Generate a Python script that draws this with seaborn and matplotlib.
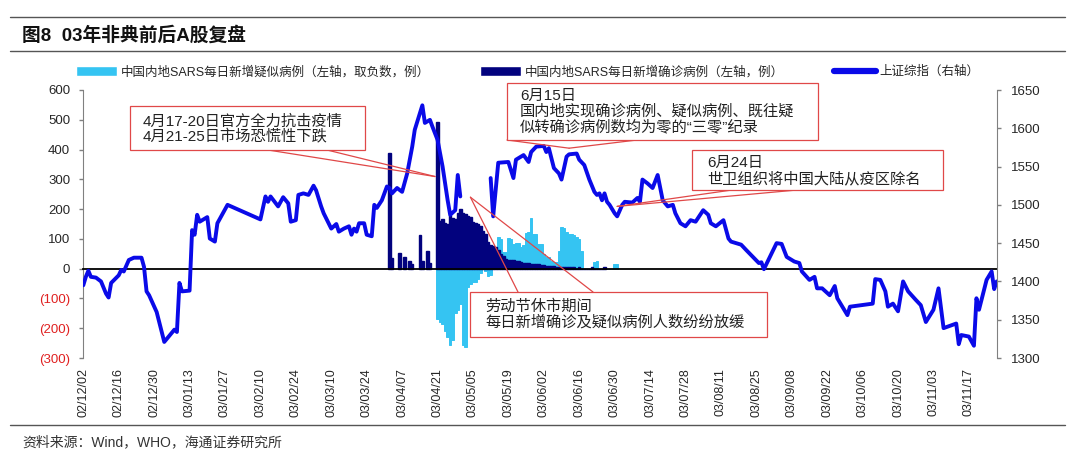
import pandas as pd
import seaborn as sns
import matplotlib.pyplot as plt
import matplotlib.dates as mdates
from matplotlib.patches import Patch, Rectangle, ConnectionPatch
from matplotlib.lines import Line2D

sns.set_style('white')
plt.rcParams['font.family'] = ['Liberation Sans', 'Noto Sans CJK SC']
plt.rcParams['axes.unicode_minus'] = False

# Shanghai Composite (right axis), format yy/mm/dd
index_dates = [
    '02/12/02', '02/12/03', '02/12/04', '02/12/05', '02/12/07', '02/12/09', '02/12/11', '02/12/12',
    '02/12/13', '02/12/16', '02/12/17', '02/12/18', '02/12/20', '02/12/22', '02/12/25', '02/12/26',
    '02/12/27', '02/12/28', '02/12/31', '03/01/03', '03/01/07', '03/01/08', '03/01/09', '03/01/10',
    '03/01/13', '03/01/14', '03/01/15', '03/01/16', '03/01/17', '03/01/20', '03/01/21', '03/01/23',
    '03/01/24', '03/01/28', '03/02/10', '03/02/12', '03/02/13', '03/02/14', '03/02/17', '03/02/19',
    '03/02/21', '03/02/22', '03/02/24', '03/02/25', '03/02/27', '03/03/01', '03/03/03', '03/03/04',
    '03/03/06', '03/03/07', '03/03/10', '03/03/11', '03/03/12', '03/03/13', '03/03/15', '03/03/17',
    '03/03/18', '03/03/19', '03/03/20', '03/03/21', '03/03/23', '03/03/24', '03/03/26', '03/03/27',
    '03/03/28', '03/03/30', '03/04/01', '03/04/02', '03/04/03', '03/04/05', '03/04/07', '03/04/09',
    '03/04/11', '03/04/12', '03/04/15', '03/04/16', '03/04/18', '03/04/19', '03/04/21', '03/04/23',
    '03/04/25', '03/04/26', '03/04/28', '03/04/29', '03/04/30',
    '03/05/12', '03/05/13', '03/05/15', '03/05/19', '03/05/21', '03/05/22', '03/05/25', '03/05/27',
    '03/05/28', '03/05/30', '03/06/02', '03/06/03', '03/06/04', '03/06/05', '03/06/06', '03/06/08',
    '03/06/09', '03/06/11', '03/06/12', '03/06/15', '03/06/16', '03/06/18', '03/06/20', '03/06/22',
    '03/06/23', '03/06/24', '03/06/25', '03/06/26', '03/06/27', '03/06/28', '03/06/30', '03/07/01',
    '03/07/03', '03/07/04', '03/07/07', '03/07/09', '03/07/10', '03/07/11', '03/07/13', '03/07/15',
    '03/07/17', '03/07/19', '03/07/21', '03/07/23', '03/07/24', '03/07/26', '03/07/28', '03/07/30',
    '03/08/01', '03/08/04', '03/08/06', '03/08/07', '03/08/09', '03/08/12', '03/08/14', '03/08/15',
    '03/08/19', '03/08/21', '03/08/26', '03/08/27', '03/08/28', '03/09/02', '03/09/04', '03/09/06',
    '03/09/09', '03/09/11', '03/09/12', '03/09/15', '03/09/17', '03/09/18', '03/09/20', '03/09/23',
    '03/09/25', '03/09/26', '03/09/30', '03/10/01', '03/10/10', '03/10/11', '03/10/13', '03/10/15',
    '03/10/16', '03/10/18', '03/10/20', '03/10/22', '03/10/24', '03/10/27', '03/10/29', '03/10/31',
    '03/11/03', '03/11/05', '03/11/07', '03/11/12', '03/11/13', '03/11/14', '03/11/17', '03/11/19',
    '03/11/20', '03/11/21', '03/11/24', '03/11/26', '03/11/27', '03/11/28',
]
index_values = [
    1395, 1406, 1414, 1406, 1405, 1400, 1384, 1379,
    1398, 1408, 1415, 1413, 1428, 1431, 1431, 1419,
    1387, 1382, 1360, 1321, 1337, 1334, 1398, 1387,
    1388, 1467, 1461, 1487, 1478, 1484, 1456, 1452,
    1476, 1500, 1481, 1511, 1504, 1511, 1498, 1510,
    1502, 1478, 1480, 1513, 1515, 1513, 1525, 1519,
    1498, 1489, 1469, 1472, 1475, 1465, 1469, 1472,
    1461, 1469, 1465, 1476, 1476, 1461, 1459, 1500,
    1496, 1506, 1524, 1522, 1515, 1522, 1517, 1541,
    1576, 1598, 1630, 1607, 1611, 1602, 1585, 1550,
    1506, 1487, 1493, 1539, 1511,
    1535, 1485, 1555, 1556, 1535, 1559, 1565, 1556,
    1569, 1576, 1577, 1569, 1574, 1561, 1548, 1541,
    1533, 1563, 1566, 1567, 1559, 1552, 1533, 1517,
    1513, 1515, 1506, 1515, 1504, 1500, 1489, 1485,
    1500, 1504, 1503, 1509, 1504, 1533, 1528, 1522,
    1539, 1506, 1498, 1500, 1489, 1476, 1472, 1480,
    1478, 1493, 1487, 1476, 1472, 1480, 1456, 1452,
    1448, 1441, 1424, 1425, 1416, 1450, 1449, 1432,
    1426, 1424, 1413, 1402, 1406, 1391, 1391, 1382,
    1394, 1378, 1356, 1367, 1371, 1403, 1402, 1387,
    1367, 1371, 1361, 1400, 1387, 1376, 1369, 1347,
    1363, 1391, 1339, 1345, 1318, 1330, 1328, 1316,
    1378, 1363, 1402, 1413, 1390, 1400,
]
# market reopened after the extended May Day break (line is broken there)
reopen_date = '03/05/12'

# new confirmed SARS cases (dark bars, left axis)
confirmed_early_dates = ['03/04/02', '03/04/03', '03/04/06', '03/04/08', '03/04/10',
                         '03/04/11', '03/04/14', '03/04/15', '03/04/17', '03/04/18']
confirmed_early = [390, 35, 53, 40, 25, 15, 112, 25, 60, 20]
confirmed_start = '03/04/21'
confirmed_daily = [
    494, 160, 168, 152, 150, 180, 170, 168, 188, 202,
    186, 184, 178, 172, 158, 152, 150, 142, 128, 116,
    88, 80, 76, 72, 62, 50, 42, 34, 30, 28,
    28, 27, 26, 24, 20, 19, 18, 17, 17, 15,
    14, 12, 11, 10, 10, 9, 8, 7, 6, 6,
    5, 5, 5, 4, 4, 0, 5, 0, 0, 0,
    0, 5, 0, 0, 0, 0, 5,
]

# new suspected cases (light bars, left axis; early part shown negative)
suspected_start = '03/04/21'
suspected_daily = [
    -170, -178, -185, -208, -230, -255, -240, -150, -140, -120,
    -255, -262, -60, -50, -45, -45, -35, -15, 0, -8,
    -25, -22, 0, 0, 108, 100, 55, 55, 104, 100,
    84, 86, 86, 73, 80, 120, 122, 170, 118, 118,
    84, 84, 50, 40, 39, 25, 22, 22, 60, 140,
    138, 123, 118, 118, 112, 105, 101, 60, 0, 0,
    0, 0, 24, 26, 0, 0, 0, 0, 0, 0,
    14, 15,
]

FMT = '%y/%m/%d'
LIGHT = '#35C4F2'
DARK = '#02027E'
BLUE = '#0A0AE8'
RED = '#E04848'
SPINE = '#808080'
W, H = 1080, 458

idx = pd.DataFrame({'date': pd.to_datetime(index_dates, format=FMT), 'value': index_values})
idx['x'] = mdates.date2num(idx['date'])
idx['seg'] = (idx['date'] >= pd.to_datetime(reopen_date, format=FMT)).astype(int)

conf_dates = list(pd.to_datetime(confirmed_early_dates, format=FMT)) + \
    list(pd.date_range(pd.to_datetime(confirmed_start, format=FMT), periods=len(confirmed_daily)))
conf = pd.DataFrame({'x': mdates.date2num(conf_dates), 'value': confirmed_early + confirmed_daily})

susp_dates = pd.date_range(pd.to_datetime(suspected_start, format=FMT), periods=len(suspected_daily))
susp = pd.DataFrame({'x': mdates.date2num(susp_dates), 'value': suspected_daily})

fig, ax = plt.subplots(figsize=(W / 100, H / 100), dpi=100)
fig.subplots_adjust(left=83.3 / W, right=996.7 / W, top=1 - 90 / H, bottom=1 - 358 / H)

sns.barplot(data=susp, x='x', y='value', native_scale=True, orient='x', width=1.0,
            color=LIGHT, saturation=1, errorbar=None, edgecolor=LIGHT, linewidth=0.7, ax=ax)
sns.barplot(data=conf, x='x', y='value', native_scale=True, orient='x', width=1.0,
            color=DARK, saturation=1, errorbar=None, edgecolor=DARK, linewidth=1.0, ax=ax)

ax2 = ax.twinx()
sns.lineplot(data=idx, x='x', y='value', units='seg', estimator=None, sort=False,
             color=BLUE, linewidth=2.8, legend=False, ax=ax2)

x0 = mdates.date2num(pd.Timestamp('2002-12-02'))
x1 = mdates.date2num(pd.Timestamp('2003-11-28'))
ax.set_xlim(x0, x1)
ax.set_ylim(-300, 600)
ax2.set_ylim(1300, 1650)

# x axis: tick marks on the zero line, labels at the bottom
tick_dates = pd.date_range('2002-12-02', '2003-11-17', freq='14D')
tick_x = mdates.date2num(tick_dates)
ax.set_xticks(tick_x)
ax.spines['bottom'].set_position(('data', 0))
ax.spines['bottom'].set_color('black')
ax.spines['bottom'].set_linewidth(1.3)
ax.tick_params(axis='x', labelbottom=False, length=5, width=1, direction='out', color='black')
sec = ax.secondary_xaxis('bottom')
sec.set_xticks(tick_x, labels=tick_dates.strftime(FMT))
sec.tick_params(length=0, pad=7.5, labelsize=9, rotation=90)
sec.spines['bottom'].set_visible(False)

# left axis
left_ticks = list(range(-300, 601, 100))
ax.set_yticks(left_ticks, labels=[f'({-v})' if v < 0 else f'{v}' for v in left_ticks])
ax.tick_params(axis='y', length=3, width=1, direction='out', pad=6.5, labelsize=9.5, color=SPINE)
for lbl, v in zip(ax.get_yticklabels(), left_ticks):
    if v < 0:
        lbl.set_color('#E02020')

# right axis
right_ticks = list(range(1300, 1651, 50))
ax2.set_yticks(right_ticks, labels=[str(v) for v in right_ticks])
ax2.tick_params(axis='y', length=3, width=1, direction='out', pad=7.5, labelsize=9.5, color=SPINE)

for a in (ax, ax2):
    a.set_xlabel('')
    a.set_ylabel('')
    a.grid(False)
ax.spines['top'].set_visible(False)
ax.spines['right'].set_visible(False)
ax.spines['left'].set_color(SPINE)
for s in ('top', 'bottom', 'left'):
    ax2.spines[s].set_visible(False)
ax2.spines['right'].set_color(SPINE)


def fxy(x, y):
    return (x / W, 1 - y / H)


# header, rules and source
for yy in (17, 51, 425):
    fig.add_artist(Line2D([10 / W, 1065 / W], [1 - yy / H] * 2, color='#555555', lw=1.0))
fig.text(*fxy(22, 35), '图8  03年非典前后A股复盘', fontsize=13.5, fontweight='bold',
         va='center', ha='left', color='#111111')
fig.text(*fxy(22, 442), '资料来源：Wind，WHO，海通证券研究所', fontsize=10,
         va='center', ha='left', color='#333333')

# legend
handles = [Patch(facecolor=LIGHT), Patch(facecolor=DARK),
           Line2D([], [], color=BLUE, lw=4.5, solid_capstyle='round')]
labels = ['中国内地SARS每日新增疑似病例（左轴，取负数，例）',
          '中国内地SARS每日新增确诊病例（左轴，例）',
          '上证综指（右轴）']
fig.legend(handles, labels, loc='center left', bbox_to_anchor=fxy(76, 72), ncol=3,
           frameon=False, fontsize=9, handlelength=3.3, handleheight=0.8,
           handletextpad=0.3, columnspacing=4.0, borderaxespad=0, borderpad=0)

# callouts: box (x0, y0, x1, y1 px), text x, line y's, wedge base points, tip on the index
callouts = [
    dict(box=(130, 106, 365, 150), tx=143, ty=[121.5, 136],
         lines=['4月17-20日官方全力抗击疫情', '4月21-25日市场恐慌性下跌'],
         base=[(268, 150), (327, 150)], tip=('03/04/20', 1537)),
    dict(box=(507, 83, 818, 140), tx=520, ty=[96, 111.5, 127],
         lines=['6月15日', '国内地实现确诊病例、疑似病例、既往疑', '似转确诊病例数均为零的“三零”纪录'],
         base=[(507, 140), (637, 140)], tip=('03/06/12', 1574)),
    dict(box=(692, 150, 943, 190), tx=707, ty=[163, 178.5],
         lines=['6月24日', '世卫组织将中国大陆从疫区除名'],
         base=[(732, 190), (797, 190)], tip=('03/07/01', 1498)),
    dict(box=(470, 292, 767, 337), tx=485, ty=[306.5, 322],
         lines=['劳动节休市期间', '每日新增确诊及疑似病例人数纷纷放缓'],
         base=[(518, 292), (593, 292)], tip=('03/05/04', 1510)),
]
for c in callouts:
    bx0, by0, bx1, by1 = c['box']
    fig.add_artist(Rectangle(fxy(bx0, by1), (bx1 - bx0) / W, (by1 - by0) / H,
                             transform=fig.transFigure, facecolor='white',
                             edgecolor=RED, lw=0.9, zorder=5))
    for line, ty in zip(c['lines'], c['ty']):
        fig.text(*fxy(c['tx'], ty), line, fontsize=11, fontweight='light', va='center',
                 ha='left', color='#222222', zorder=6)
    tip_x = mdates.date2num(pd.to_datetime(c['tip'][0], format=FMT))
    for bp in c['base']:
        fig.add_artist(ConnectionPatch(xyA=fxy(*bp), coordsA='figure fraction',
                                       xyB=(tip_x, c['tip'][1]), coordsB='data', axesB=ax2,
                                       color=RED, lw=0.9, zorder=4))

fig.savefig('out.png', dpi=100)
